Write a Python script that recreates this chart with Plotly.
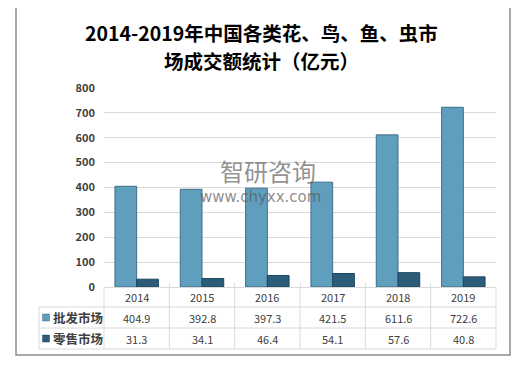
import plotly.graph_objects as go

years = ["2014", "2015", "2016", "2017", "2018", "2019"]
wholesale = [404.9, 392.8, 397.3, 421.5, 611.6, 722.6]
retail = [31.3, 34.1, 46.4, 54.1, 57.6, 40.8]
series_names = ["批发市场", "零售市场"]
title_lines = ["2014-2019年中国各类花、鸟、鱼、虫市", "场成交额统计（亿元）"]

# the page body has an 8px margin, so the figure is drawn 8px smaller and shifted
OFF = 8
FW, FH = 519 - OFF, 365 - OFF
# plot area in reference pixel coordinates
L, R, T, B = 104, 496, 88, 287
W, H = R - L, B - T


def px(x):
    return (x - L) / W


def py(y):
    return (B - y) / H


c_whole = "#5f9ebd"
c_whole_line = "#3f6f88"
c_retail = "#2d5c7a"
c_retail_line = "#1c465f"
grid = "#d9d9d9"
txt = "#404040"
font_cjk = "Noto Sans CJK SC"

fig = go.Figure()
fig.add_trace(go.Bar(x=years, y=wholesale, name=series_names[0],
                     marker=dict(color=c_whole, line=dict(color=c_whole_line, width=1))))
fig.add_trace(go.Bar(x=years, y=retail, name=series_names[1],
                     marker=dict(color=c_retail, line=dict(color=c_retail_line, width=1))))

shapes = []
# outer border
shapes.append(dict(type="rect", xref="paper", yref="paper",
                   x0=px(16), x1=px(510), y0=py(355), y1=py(6),
                   line=dict(color="#8c8c8c", width=1.5), layer="below"))
# table horizontal lines
for yy, x0 in [(307, 39), (328, 39), (349, 39)]:
    shapes.append(dict(type="line", xref="paper", yref="paper",
                       x0=px(x0), x1=px(R), y0=py(yy), y1=py(yy),
                       line=dict(color=grid, width=1)))
# table vertical lines
ncat = len(years)
for i in range(ncat + 1):
    xx = L + W * i / ncat
    shapes.append(dict(type="line", xref="paper", yref="paper",
                       x0=px(xx), x1=px(xx), y0=py(B), y1=py(349),
                       line=dict(color=grid, width=1)))
shapes.append(dict(type="line", xref="paper", yref="paper",
                   x0=px(39), x1=px(39), y0=py(307), y1=py(349),
                   line=dict(color=grid, width=1)))
# legend keys
for yc, col, lc in [(317.5, c_whole, c_whole_line), (338.5, c_retail, c_retail_line)]:
    shapes.append(dict(type="rect", xref="paper", yref="paper",
                       x0=px(42.5), x1=px(49.5), y0=py(yc + 3.5), y1=py(yc - 3.5),
                       fillcolor=col, line=dict(color=lc, width=0.5)))

annotations = []
# title, two lines
for line, yc in zip(title_lines, [32.5, 60.5]):
    annotations.append(dict(x=px(261), xref="paper", xanchor="center", y=py(yc), yref="paper",
                            yanchor="middle", text=line, showarrow=False,
                            font=dict(family=font_cjk, size=19.5, color="#000000", weight="bold")))

row_y = {"hdr": 297, "w": 317.5, "r": 338.5}
for i, yr in enumerate(years):
    for key, label in [("hdr", yr), ("w", f"{wholesale[i]:.1f}"), ("r", f"{retail[i]:.1f}")]:
        annotations.append(dict(x=i, xref="x", xanchor="center", y=py(row_y[key]), yref="paper",
                                yanchor="middle", text=label, showarrow=False,
                                font=dict(family=font_cjk, size=11, color=txt)))
for key, name in [("w", series_names[0]), ("r", series_names[1])]:
    annotations.append(dict(x=px(50.5), xref="paper", xanchor="left", y=py(row_y[key]), yref="paper",
                            yanchor="middle", text=name, showarrow=False,
                            font=dict(family=font_cjk, size=12.5, color=txt, weight="bold")))
# watermark
annotations.append(dict(x=px(218), xref="paper", xanchor="left", y=py(170), yref="paper",
                        yanchor="middle", text="智研咨询", showarrow=False,
                        font=dict(family=font_cjk, size=24, color="rgba(110,110,110,0.75)")))
annotations.append(dict(x=px(260), xref="paper", xanchor="center", y=py(197), yref="paper",
                        yanchor="middle", text="www.chyxx.com", showarrow=False,
                        font=dict(family="DejaVu Sans", size=15, color="rgba(90,90,90,0.7)")))

fig.update_layout(
    width=FW, height=FH,
    margin=dict(l=L - OFF, r=519 - R, t=T - OFF, b=365 - B),
    paper_bgcolor="white", plot_bgcolor="white",
    barmode="group", bargap=0.335, bargroupgap=0,
    showlegend=False,
    shapes=shapes, annotations=annotations,
    xaxis=dict(type="category", range=[-0.5, ncat - 0.5], showticklabels=False, showgrid=False,
               showline=True, linecolor=grid, linewidth=1,
               ticks="inside", tickson="boundaries", ticklen=4, tickcolor=grid),
    yaxis=dict(range=[0, 800], dtick=100, showgrid=True, gridcolor=grid, gridwidth=1,
               zeroline=False, showline=False, ticks="", ticklabelstandoff=8,
               tickfont=dict(family=font_cjk, size=11, color=txt, weight="bold")),
)

fig.write_html("out.html")
